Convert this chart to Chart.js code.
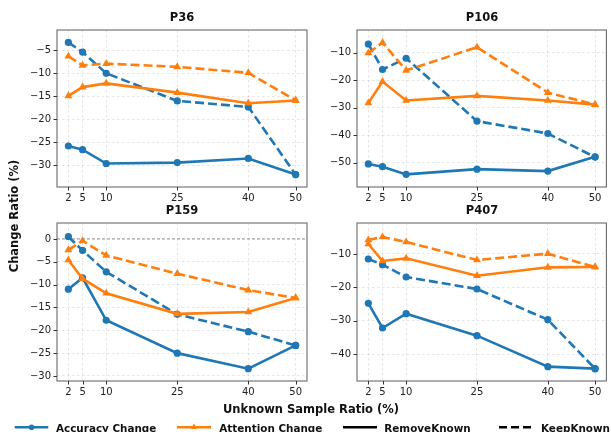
<!DOCTYPE html>
<html>
<head>
<meta charset="utf-8">
<script src="https://cdn.jsdelivr.net/npm/chart.js@4/dist/chart.umd.min.js"></script>
<style>
  html, body { margin: 0; padding: 0; background: #fff; }
  body { width: 611px; height: 432px; position: relative; overflow: hidden; font-family: "DejaVu Sans", sans-serif; color: #111; }
  .pane { position: absolute; }
  .txt { position: absolute; white-space: nowrap; font-weight: bold; line-height: 1; }
  .leg { position: absolute; white-space: nowrap; font-weight: bold; font-size: 10.4px; line-height: 1; top: 422.5px; }
  svg { position: absolute; overflow: visible; }
</style>
</head>
<body>
<script>
// ---------- data ----------
const xValues = [2, 5, 10, 25, 40, 50];
const xTicks = [2, 5, 10, 25, 40, 50];

const p36AccRemove = [-25.8, -26.6, -29.6, -29.4, -28.5, -32.0];
const p36AccKeep   = [-3.3, -5.4, -10.0, -16.0, -17.3, -32.0];
const p36AttRemove = [-14.9, -13.0, -12.2, -14.2, -16.5, -15.9];
const p36AttKeep   = [-6.3, -8.3, -7.9, -8.6, -9.9, -15.9];
const p36YTicks = [-30, -25, -20, -15, -10, -5];

const p106AccRemove = [-50.5, -51.5, -54.3, -52.4, -53.1, -47.9];
const p106AccKeep   = [-6.8, -16.1, -12.0, -34.9, -39.4, -48.0];
const p106AttRemove = [-28.3, -20.5, -27.4, -25.7, -27.4, -28.9];
const p106AttKeep   = [-10.1, -6.3, -16.4, -8.0, -24.5, -28.9];
const p106YTicks = [-50, -40, -30, -20, -10];

const p159AccRemove = [-11.0, -8.5, -17.8, -25.0, -28.4, -23.3];
const p159AccKeep   = [0.5, -2.5, -7.2, -16.5, -20.3, -23.3];
const p159AttRemove = [-4.6, -8.7, -11.9, -16.4, -16.0, -12.9];
const p159AttKeep   = [-2.4, -0.4, -3.6, -7.6, -11.2, -12.9];
const p159YTicks = [-30, -25, -20, -15, -10, -5, 0];

const p407AccRemove = [-24.8, -32.2, -27.9, -34.5, -43.8, -44.4];
const p407AccKeep   = [-11.5, -13.2, -16.9, -20.5, -29.7, -44.4];
const p407AttRemove = [-7.0, -12.1, -11.3, -16.5, -14.0, -13.9];
const p407AttKeep   = [-5.8, -4.9, -6.4, -11.8, -9.9, -13.9];
const p407YTicks = [-40, -30, -20, -10];

const panelTitles = ["P36", "P106", "P159", "P407"];
const legendLabels = ["Accuracy Change", "Attention Change", "RemoveKnown", "KeepKnown"];
const xAxisLabel = "Unknown Sample Ratio (%)";
const yAxisLabel = "Change Ratio (%)";

// ---------- style ----------
const BLUE = "#1f77b4", ORANGE = "#ff7f0e";
const FONT = "DejaVu Sans";

function pts(vals) { return xValues.map((x, i) => ({ x: x, y: vals[i] })); }

function ds(vals, color, dashed, marker) {
  return {
    data: pts(vals),
    borderColor: color,
    backgroundColor: color,
    borderWidth: 2.6,
    borderDash: dashed ? [9, 4] : [],
    pointStyle: marker,
    pointRadius: marker === "triangle" ? 4.6 : 3.6,
    pointBackgroundColor: color,
    pointBorderColor: color,
    pointBorderWidth: 0,
    tension: 0,
    clip: false,
    fill: false
  };
}

const framePlugin = {
  id: "frame",
  beforeDatasetsDraw(chart) {
    const zl = chart.options.plugins.frame && chart.options.plugins.frame.zeroLine;
    if (zl) {
      const a = chart.chartArea, ys = chart.scales.y;
      const py = ys.getPixelForValue(0);
      const ctx = chart.ctx;
      ctx.save();
      ctx.strokeStyle = "#8a8a8a";
      ctx.lineWidth = 0.9;
      ctx.setLineDash([3, 2]);
      ctx.beginPath(); ctx.moveTo(a.left, py); ctx.lineTo(a.right, py); ctx.stroke();
      ctx.restore();
    }
  },
  afterDraw(chart) {
    const a = chart.chartArea, ctx = chart.ctx;
    ctx.save();
    ctx.strokeStyle = "#6a6a6a";
    ctx.lineWidth = 1.1;
    ctx.setLineDash([]);
    ctx.strokeRect(a.left, a.top, a.right - a.left, a.bottom - a.top);
    ctx.strokeStyle = "#333";
    ctx.lineWidth = 1;
    const xs = chart.scales.x, ys = chart.scales.y;
    ctx.beginPath();
    xs.ticks.forEach(t => { const px = Math.round(xs.getPixelForValue(t.value)) + 0.5; ctx.moveTo(px, a.bottom); ctx.lineTo(px, a.bottom + 3.5); });
    ys.ticks.forEach(t => { const py = Math.round(ys.getPixelForValue(t.value)) + 0.5; ctx.moveTo(a.left, py); ctx.lineTo(a.left - 3.5, py); });
    ctx.stroke();
    ctx.restore();
  }
};

function makePanel(plotL, plotT, plotW, plotH, title, acc, accK, att, attK, yMin, yMax, yTicks, zeroLine) {
  const LEFT = 50, TOP = 8, BOTTOM = 22;
  const RIGHT = Math.max(2, Math.min(8, 611 - (plotL + plotW)));
  const W = LEFT + plotW + RIGHT, H = TOP + plotH + BOTTOM;
  const div = document.createElement("div");
  div.className = "pane";
  div.style.left = (plotL - LEFT) + "px";
  div.style.top = (plotT - TOP) + "px";
  div.style.width = W + "px";
  div.style.height = H + "px";
  const cv = document.createElement("canvas");
  cv.width = W; cv.height = H;
  cv.style.width = W + "px"; cv.style.height = H + "px";
  div.appendChild(cv);
  document.body.appendChild(div);

  const t = document.createElement("div");
  t.className = "txt";
  t.style.fontSize = "11.5px";
  t.textContent = title;
  t.style.left = (plotL + plotW / 2) + "px";
  t.style.top = (plotT - 8.5) + "px";
  t.style.transform = "translate(-50%, -50%)";
  document.body.appendChild(t);

  new Chart(cv, {
    type: "line",
    data: {
      datasets: [
        ds(attK, ORANGE, true, "triangle"),
        ds(att, ORANGE, false, "triangle"),
        ds(accK, BLUE, true, "circle"),
        ds(acc, BLUE, false, "circle")
      ]
    },
    options: {
      responsive: false,
      animation: false,
      events: [],
      layout: { padding: { left: 0, top: TOP, right: RIGHT, bottom: 0 } },
      plugins: { legend: { display: false }, tooltip: { enabled: false }, title: { display: false }, frame: { zeroLine: zeroLine } },
      scales: {
        x: {
          type: "linear",
          min: -0.4, max: 52.4,
          afterFit(s) { s.height = BOTTOM; },
          afterBuildTicks(s) { s.ticks = xTicks.map(v => ({ value: v })); },
          ticks: { font: { family: FONT, size: 10 }, color: "#222", padding: 5, maxRotation: 0, autoSkip: false, callback: v => String(v) },
          grid: { color: "rgba(0,0,0,0.13)", lineWidth: 0.8, drawTicks: false },
          border: { display: false, dash: [2.5, 2.5] }
        },
        y: {
          type: "linear",
          min: yMin, max: yMax,
          afterFit(s) { s.width = LEFT; },
          afterBuildTicks(s) { s.ticks = yTicks.map(v => ({ value: v })); },
          ticks: { font: { family: FONT, size: 10 }, color: "#222", padding: 6, autoSkip: false, callback: v => String(v).replace("-", "\u2212") },
          grid: { color: "rgba(0,0,0,0.13)", lineWidth: 0.8, drawTicks: false },
          border: { display: false, dash: [2.5, 2.5] }
        }
      }
    },
    plugins: [framePlugin]
  });
}

makePanel(57, 26, 250, 161, panelTitles[0], p36AccRemove, p36AccKeep, p36AttRemove, p36AttKeep, -34.7, -0.6, p36YTicks, false);
makePanel(357, 26, 250, 161, panelTitles[1], p106AccRemove, p106AccKeep, p106AttRemove, p106AttKeep, -58.9, -1.7, p106YTicks, false);
makePanel(57, 219, 250, 162, panelTitles[2], p159AccRemove, p159AccKeep, p159AttRemove, p159AttKeep, -31.1, 3.5, p159YTicks, true);
makePanel(357, 219, 250, 162, panelTitles[3], p407AccRemove, p407AccKeep, p407AttRemove, p407AttKeep, -48.1, -0.7, p407YTicks, false);

// axis labels
(function () {
  const xl = document.createElement("div");
  xl.className = "txt"; xl.style.fontSize = "11.5px";
  xl.textContent = xAxisLabel;
  xl.style.left = "311px"; xl.style.top = "410px";
  xl.style.transform = "translate(-50%, -50%)";
  document.body.appendChild(xl);

  const yl = document.createElement("div");
  yl.className = "txt"; yl.style.fontSize = "11.5px";
  yl.textContent = yAxisLabel;
  yl.style.left = "15px"; yl.style.top = "216px";
  yl.style.transform = "translate(-50%, -50%) rotate(-90deg)";
  document.body.appendChild(yl);
})();

// legend
(function () {
  const items = [
    { x1: 14.7, x2: 48.3, tx: 56, color: BLUE, dash: "", marker: "circle" },
    { x1: 177, x2: 211, tx: 219.3, color: ORANGE, dash: "", marker: "triangle" },
    { x1: 343, x2: 377, tx: 384.3, color: "#000", dash: "", marker: null },
    { x1: 499, x2: 533, tx: 541, color: "#000", dash: "8 4", marker: null }
  ];
  const ns = "http://www.w3.org/2000/svg";
  const svg = document.createElementNS(ns, "svg");
  svg.setAttribute("width", "611"); svg.setAttribute("height", "432");
  svg.style.left = "0px"; svg.style.top = "0px";
  const ly = 427.2;
  items.forEach((it, i) => {
    const ln = document.createElementNS(ns, "line");
    ln.setAttribute("x1", it.x1); ln.setAttribute("x2", it.x2);
    ln.setAttribute("y1", ly); ln.setAttribute("y2", ly);
    ln.setAttribute("stroke", it.color); ln.setAttribute("stroke-width", "2.4");
    if (it.dash) ln.setAttribute("stroke-dasharray", it.dash);
    svg.appendChild(ln);
    const cx = (it.x1 + it.x2) / 2;
    if (it.marker === "circle") {
      const c = document.createElementNS(ns, "circle");
      c.setAttribute("cx", cx); c.setAttribute("cy", ly); c.setAttribute("r", "2.8");
      c.setAttribute("fill", it.color);
      svg.appendChild(c);
    } else if (it.marker === "triangle") {
      const p = document.createElementNS(ns, "polygon");
      const r = 3.6;
      p.setAttribute("points", `${cx},${ly - r} ${cx - r * 0.87},${ly + r * 0.5} ${cx + r * 0.87},${ly + r * 0.5}`);
      p.setAttribute("fill", it.color);
      svg.appendChild(p);
    }
    const t = document.createElement("div");
    t.className = "leg";
    t.textContent = legendLabels[i];
    t.style.left = it.tx + "px";
    document.body.appendChild(t);
  });
  document.body.appendChild(svg);
})();
</script>
</body>
</html>
